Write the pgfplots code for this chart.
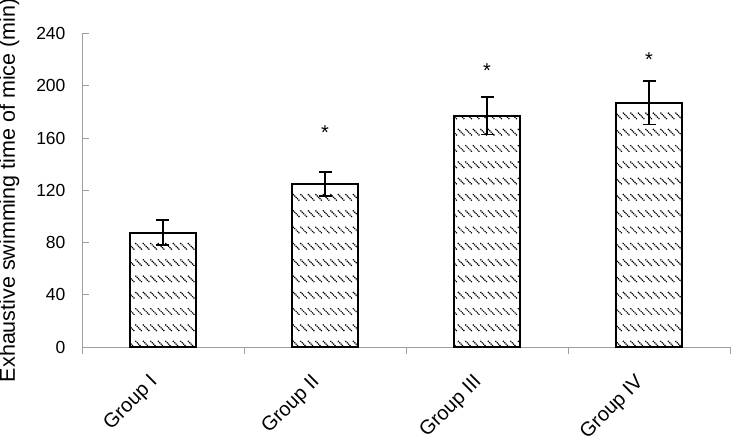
\documentclass[border=0pt]{standalone}
\usepackage{pgfplots}
\pgfplotsset{compat=1.18}
\usepackage{fontspec}
\setmainfont{Liberation Sans}
\usetikzlibrary{patterns}
\pgfdeclarepatternformonly{dotdiag}{\pgfqpoint{-1pt}{-1pt}}{\pgfqpoint{9pt}{17.5pt}}{\pgfqpoint{7.5pt}{16.3pt}}{%
  \pgfpathcircle{\pgfqpoint{0.8pt}{14.2pt}}{0.85pt}%
  \pgfpathcircle{\pgfqpoint{2.2pt}{12.8pt}}{0.85pt}%
  \pgfpathcircle{\pgfqpoint{3.6pt}{11.4pt}}{0.85pt}%
  \pgfpathcircle{\pgfqpoint{5.0pt}{10.0pt}}{0.85pt}%
  \pgfpathcircle{\pgfqpoint{6.4pt}{8.6pt}}{0.85pt}%
  \pgfusepath{fill}%
}
\begin{document}
\begin{tikzpicture}
\begin{axis}[
  name=ax,
  scale only axis,
  width=648pt, height=313.5pt,
  xmin=-0.5, xmax=3.5,
  ymin=0, ymax=240,
  axis lines=left,
  axis line style={draw=gray!75, line width=0.8pt, -},
  xtick={0,1,2,3},
  xticklabels={Group I, Group II, Group III, Group IV},
  major x tick style={draw=none},
  minor xtick={-0.5,0.5,1.5,2.5,3.5},
  minor x tick style={draw=gray!75, line width=0.8pt},
  ytick={0,40,...,240},
  major y tick style={draw=gray!75, line width=0.8pt},
  tick align=inside,
  major tick length=7pt,
  minor tick length=7pt,
  /pgf/number format/assume math mode=true,
  yticklabel style={font=\fontsize{17.5}{20}\selectfont, xshift=-13pt},
  xticklabel style={font=\fontsize{20}{23}\selectfont, rotate=45, anchor=north east, xshift=-20.3pt, yshift=0.5pt},
  ylabel={Exhaustive swimming time of mice (min)},
  ylabel style={font=\fontsize{21.5}{25}\selectfont, yshift=10pt},
  ybar,
  bar width=0.407,
  bar shift=0pt,
  clip=false,
]
\addplot[draw=black, line width=1.8pt, pattern=dotdiag, pattern color=black, bar shift=0pt,
  error bars/.cd, y dir=both, y explicit,
  error bar style={line width=1.6pt, black},
  error mark options={rotate=90, mark size=6.5pt, line width=1.6pt, black}]
  coordinates {
  (0,87.5) +- (0,9.6)
  (1,124.8) +- (0,9.3)
  (2,177) +- (0,14.2)
  (3,187) +- (0,16.8)
};
\addplot[draw=none, fill=none, forget plot, bar shift=0pt,
  nodes near coords={*},
  every node near coord/.append style={anchor=center, font=\fontsize{20}{24}\selectfont, yshift=-2.5pt}]
  coordinates {(1,165.8) (2,213.6) (3,222.3)};
\end{axis}
\pgfresetboundingbox
\path ([shift={(-82pt,-90pt)}]ax.south west) rectangle ([shift={(1pt,33.5pt)}]ax.north east);
\end{tikzpicture}
\end{document}
